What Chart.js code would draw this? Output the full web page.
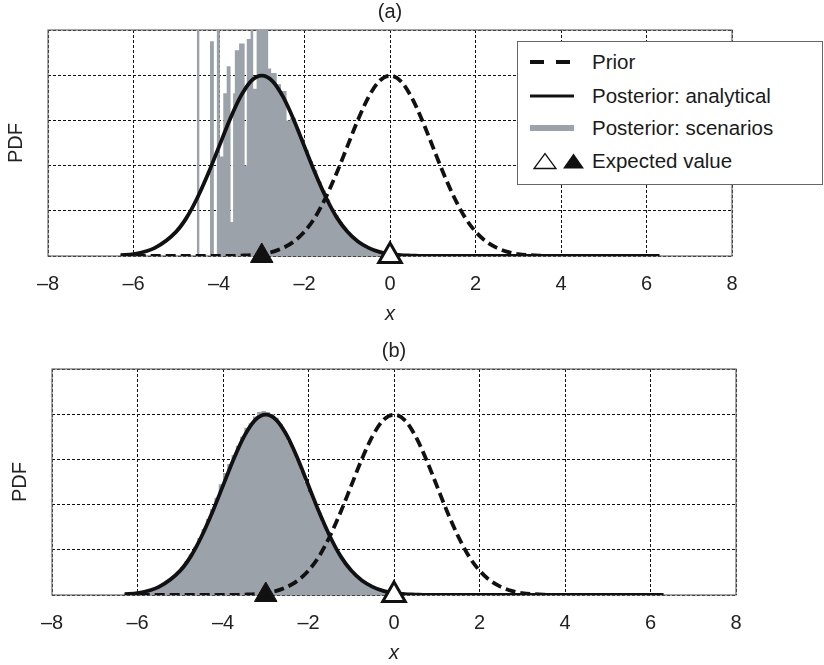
<!DOCTYPE html>
<html>
<head>
<meta charset="utf-8">
<script src="https://cdn.jsdelivr.net/npm/chart.js@4.4.1/dist/chart.umd.min.js"></script>
<style>
  html, body { margin: 0; padding: 0; background: #fff; overflow: hidden; }
  #wrap { position: relative; width: 824px; height: 665px; overflow: hidden; }
  #wrap canvas { position: absolute; }
  #chartA { left: 0; top: 0; }
  #chartB { left: 4px; top: 339px; }
  #legend {
    position: absolute; left: 517px; top: 41px; width: 306px; height: 144px;
    box-sizing: border-box; border: 1px solid #666; background: #fff;
    font-family: "Liberation Sans", Arial, sans-serif; font-size: 20.5px; color: #1a1a1a;
  }
  .row { position: absolute; left: 0; width: 300px; height: 30px; }
  .row svg { position: absolute; left: 0; top: 0; }
  .row span { position: absolute; left: 74px; top: 3px; line-height: 24px; white-space: nowrap; }
</style>
</head>
<body>
<div id="wrap">
  <canvas id="chartA" width="824" height="332"></canvas>
  <canvas id="chartB" width="824" height="332"></canvas>
  <div id="legend">
    <div class="row" style="top:5px">
      <svg width="70" height="30"><line x1="12" y1="15" x2="52" y2="15" stroke="#111" stroke-width="4" stroke-dasharray="14,12"/></svg>
      <span>Prior</span>
    </div>
    <div class="row" style="top:39px">
      <svg width="70" height="30"><line x1="12" y1="15" x2="56" y2="15" stroke="#111" stroke-width="3"/></svg>
      <span>Posterior: analytical</span>
    </div>
    <div class="row" style="top:71px">
      <svg width="70" height="30"><line x1="12" y1="15" x2="56" y2="15" stroke="#9ba2aa" stroke-width="6"/></svg>
      <span>Posterior: scenarios</span>
    </div>
    <div class="row" style="top:104px">
      <svg width="70" height="30">
        <polygon points="16,22.5 38,22.5 27,7.5" fill="#fff" stroke="#111" stroke-width="1.3"/>
        <polygon points="45,22.5 66,22.5 55.5,7.5" fill="#111"/>
      </svg>
      <span>Expected value</span>
    </div>
  </div>
</div>
<script>
document.addEventListener("DOMContentLoaded", () => {

  // ===== Data =====
  const xTicks = [-8, -6, -4, -2, 0, 2, 4, 6, 8];
  const yGrid = [0, 0.1, 0.2, 0.3, 0.4, 0.5];

  const curveX = [-6.3, -6, -5.5, -5, -4.75, -4.5, -4.25, -4, -3.75, -3.5, -3.25, -3,
    -2.75, -2.5, -2.25, -2, -1.75, -1.5, -1.25, -1, -0.75, -0.5, -0.25, 0,
    0.25, 0.5, 0.75, 1, 1.25, 1.5, 1.75, 2, 2.25, 2.5, 2.75, 3, 3.5, 4, 5, 6.3];

  const priorPdf = [0, 0, 0, 0, 0, 0, 0, 0, 0, 0.001, 0.002, 0.004,
    0.009, 0.018, 0.032, 0.054, 0.086, 0.130, 0.183, 0.242, 0.301, 0.352, 0.387, 0.399,
    0.387, 0.352, 0.301, 0.242, 0.183, 0.130, 0.086, 0.054, 0.032, 0.018, 0.009, 0.004, 0.001, 0, 0, 0];

  const posteriorPdf = [0.002, 0.004, 0.018, 0.054, 0.086, 0.130, 0.183, 0.242, 0.301, 0.352, 0.387, 0.399,
    0.387, 0.352, 0.301, 0.242, 0.183, 0.130, 0.086, 0.054, 0.032, 0.018, 0.009, 0.004,
    0.002, 0.001, 0, 0, 0, 0, 0, 0, 0, 0, 0, 0, 0, 0, 0, 0];

  // (a) few scenarios: uneven bars
  const histEdgesA = [-4.52, -4.46, -4.21, -4.12, -4.05, -3.98, -3.90, -3.82, -3.73, -3.67, -3.63, -3.53,
    -3.40, -3.35, -3.26, -3.20, -3.12, -2.85, -2.78, -2.65, -2.55, -2.42, -2.34,
    -2.2, -2.1, -2.0, -1.9, -1.8, -1.7, -1.6, -1.5, -1.4, -1.3, -1.2, -1.1, -1.0,
    -0.9, -0.8, -0.7, -0.6, -0.5, -0.4, -0.3, -0.2, -0.1, 0, 0.1];
  const histHeightsA = [0.55, 0, 0.475, 0, 0.55, 0.22, 0.36, 0.42, 0.075, 0.36, 0.455, 0.47,
    0.20, 0.48, 0.55, 0.37, 0.55, 0.415, 0.405, 0.38, 0.365, 0.30,
    0.305, 0.28, 0.26, 0.235, 0.21, 0.19, 0.165, 0.145, 0.125, 0.105, 0.09, 0.075, 0.062,
    0.05, 0.04, 0.032, 0.025, 0.02, 0.015, 0.011, 0.008, 0.005, 0.003, 0.002];

  // (b) many scenarios: bins of 0.1 from -6.0
  const histStartB = -6.0;
  const histWidthB = 0.1;
  const histHeightsB = [0.004, 0.006, 0.009, 0.012, 0.016, 0.02, 0.026, 0.032, 0.041, 0.05,
    0.062, 0.075, 0.09, 0.107, 0.126, 0.146, 0.168, 0.19, 0.215, 0.245,
    0.27, 0.29, 0.31, 0.33, 0.35, 0.37, 0.38, 0.395, 0.405, 0.407,
    0.405, 0.40, 0.392, 0.378, 0.362, 0.34, 0.322, 0.30, 0.275, 0.25,
    0.228, 0.205, 0.182, 0.16, 0.138, 0.119, 0.101, 0.085, 0.071, 0.059,
    0.048, 0.039, 0.031, 0.025, 0.019, 0.015, 0.011, 0.008, 0.006, 0.004,
    0.003, 0.002, 0.001];

  const expectedPrior = 0;
  const expectedPosteriorA = -3.0;
  const expectedPosteriorB = -3.0;

  // ===== Helpers =====
  Chart.defaults.font.family = '"Liberation Sans", Arial, sans-serif';
  Chart.defaults.color = "#222";

  const histGray = "#9ba2aa";

  function pts(xs, ys) {
    return xs.map((x, i) => ({ x: x, y: ys[i] }));
  }

  // bar i spans edges[i]..edges[i+1] at heights[i]
  function stepPoints(edges, heights) {
    const out = [{ x: edges[0], y: 0 }];
    heights.forEach((h, i) => out.push({ x: edges[i], y: h }));
    const last = edges[edges.length - 1];
    out.push({ x: last, y: heights[heights.length - 1] });
    out.push({ x: last, y: 0 });
    return out;
  }

  const frameBox = {
    id: "frameBox",
    beforeDatasetsDraw(chart) {
      const { ctx, chartArea: a } = chart;
      ctx.save();
      ctx.strokeStyle = "#6a6a6a";
      ctx.lineWidth = 1.2;
      ctx.strokeRect(a.left, a.top, a.right - a.left, a.bottom - a.top);
      ctx.restore();
    }
  };

  function makeChart(id, title, edges, heights, expectedPost) {
    const ctx = document.getElementById(id).getContext("2d");
    return new Chart(ctx, {
      type: "line",
      data: {
        datasets: [
          {
            type: "scatter",
            data: [{ x: expectedPost, y: 0 }, { x: expectedPrior, y: 0 }],
            pointStyle: "triangle",
            pointRadius: 13,
            pointBackgroundColor: ["#111", "#fff"],
            pointBorderColor: "#111",
            pointBorderWidth: [1, 3],
            clip: false,
            order: 0
          },
          {
            data: pts(curveX, posteriorPdf),
            borderColor: "#111",
            borderWidth: 3.8,
            pointRadius: 0,
            cubicInterpolationMode: "monotone",
            fill: false,
            order: 1
          },
          {
            data: pts(curveX, priorPdf),
            borderColor: "#111",
            borderWidth: 3.8,
            borderDash: [10, 5],
            pointRadius: 0,
            cubicInterpolationMode: "monotone",
            fill: false,
            order: 2
          },
          {
            data: stepPoints(edges, heights),
            stepped: "before",
            borderWidth: 0,
            borderColor: "rgba(0,0,0,0)",
            backgroundColor: histGray,
            pointRadius: 0,
            fill: "origin",
            order: 3
          }
        ]
      },
      options: {
        responsive: false,
        animation: false,
        devicePixelRatio: 1,
        layout: { padding: { left: 0, right: 92, top: 0, bottom: 0 } },
        plugins: {
          legend: { display: false },
          tooltip: { enabled: false },
          title: {
            display: true,
            text: title,
            fullSize: false,
            font: { size: 20, weight: "normal" },
            color: "#222",
            padding: { top: 0, bottom: 6 }
          }
        },
        scales: {
          x: {
            type: "linear",
            min: xTicks[0],
            max: xTicks[xTicks.length - 1],
            afterBuildTicks: s => { s.ticks = xTicks.map(v => ({ value: v })); },
            afterFit: s => { s.height = 76; },
            grid: { color: "#111", lineWidth: 1, drawTicks: false },
            border: { display: false, dash: [3, 2] },
            ticks: {
              padding: 16,
              font: { size: 20 },
              color: "#222",
              callback: v => (v < 0 ? "\u2013" + Math.abs(v) : String(v))
            },
            title: {
              display: true,
              text: "x",
              font: { size: 20, style: "italic" },
              color: "#222",
              padding: { top: 0, bottom: 6 }
            }
          },
          y: {
            min: yGrid[0],
            max: yGrid[yGrid.length - 1],
            afterBuildTicks: s => { s.ticks = yGrid.map(v => ({ value: v })); },
            afterFit: s => { s.width = 48; },
            grid: { color: "#111", lineWidth: 1, drawTicks: false },
            border: { display: false, dash: [3, 2] },
            ticks: { display: false },
            title: {
              display: true,
              text: "PDF",
              font: { size: 20 },
              color: "#222",
              padding: 4
            }
          }
        }
      },
      plugins: [frameBox]
    });
  }

  const edgesB = histHeightsB.map((h, i) => +(histStartB + i * histWidthB).toFixed(2));
  edgesB.push(+(histStartB + histHeightsB.length * histWidthB).toFixed(2));

  makeChart("chartA", "(a)", histEdgesA, histHeightsA, expectedPosteriorA);
  makeChart("chartB", "(b)", edgesB, histHeightsB, expectedPosteriorB);

});
</script>
</body>
</html>
